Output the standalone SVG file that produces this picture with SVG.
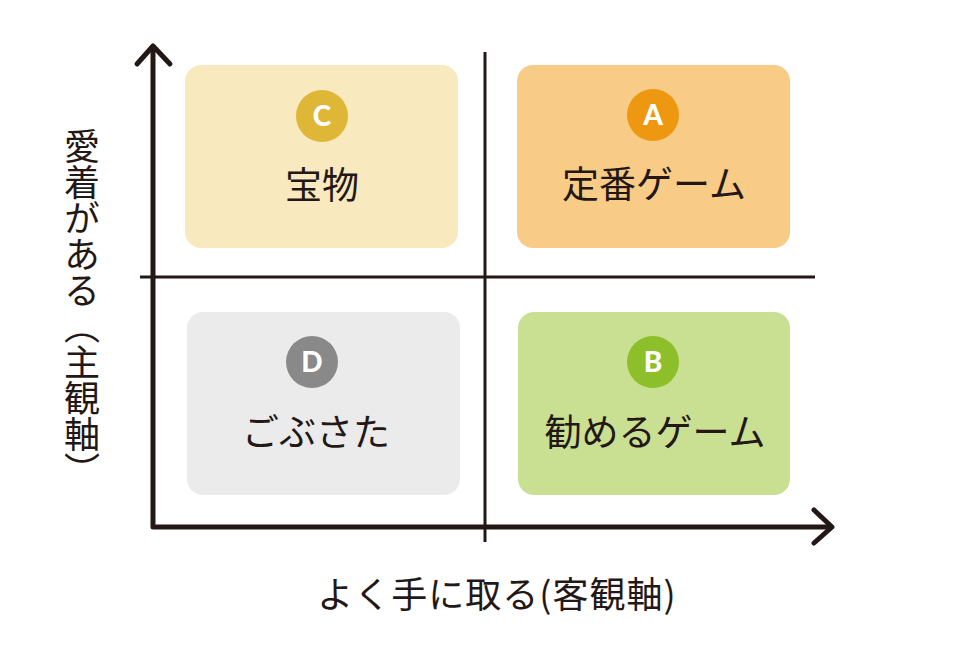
<svg xmlns="http://www.w3.org/2000/svg" width="970" height="647" viewBox="0 0 970 647">
<style>
.lbl{font-family:"Noto Sans CJK JP","Noto Sans",sans-serif;font-size:37px;fill:#231815;text-anchor:middle}
.ax{font-family:"Noto Sans CJK JP","Noto Sans",sans-serif;font-size:36px;fill:#231815;text-anchor:middle}
.let{font-family:Lato,"Open Sans",sans-serif;font-weight:900;font-size:28px;fill:#fff;text-anchor:middle}
.axis{stroke:#231815;stroke-width:5;fill:none;stroke-linecap:round;stroke-linejoin:round}
.cross{stroke:#231815;stroke-width:3;fill:none}
</style>
<rect width="970" height="647" fill="#fff"/>
<g id="connectors">
<line class="cross" x1="485" y1="52" x2="485" y2="542"/>
<line class="cross" x1="140" y1="277" x2="815" y2="277"/>
<polyline class="axis" points="153,47 153,527 830,527"/>
<polyline class="axis" points="137,64 153,46 170,64"/>
<polyline class="axis" points="814,510 832,527 814,543"/>
</g>
<g id="nodeC">
<rect x="185" y="65" width="273" height="183" rx="16" fill="#F8E9BF"/>
<circle cx="322" cy="116" r="26" fill="#DDB735"/>
<text class="let" x="322" y="126">C</text>
<text class="lbl" x="322" y="199">宝物</text>
</g>
<g id="nodeA">
<rect x="517" y="65" width="273" height="183" rx="16" fill="#F8CB86"/>
<circle cx="653" cy="115" r="26" fill="#EE9812"/>
<text class="let" x="653" y="125">A</text>
<text class="lbl" x="654" y="198">定番ゲーム</text>
</g>
<g id="nodeD">
<rect x="187" y="312" width="273" height="183" rx="16" fill="#EBEBEB"/>
<circle cx="312" cy="362" r="26" fill="#898989"/>
<text class="let" x="312" y="372">D</text>
<text class="lbl" x="316" y="446">ごぶさた</text>
</g>
<g id="nodeB">
<rect x="518" y="312" width="272" height="183" rx="16" fill="#C9DF92"/>
<circle cx="653" cy="362" r="26" fill="#8DBF2A"/>
<text class="let" x="653" y="372">B</text>
<text class="lbl" x="655" y="446">勧めるゲーム</text>
</g>
<g id="labels">
<text class="ax" x="82" y="308" style="writing-mode:vertical-rl">愛着がある（主観軸）</text>
<text class="ax" x="497" y="608" letter-spacing="1">よく手に取る(客観軸)</text>
</g>
</svg>
